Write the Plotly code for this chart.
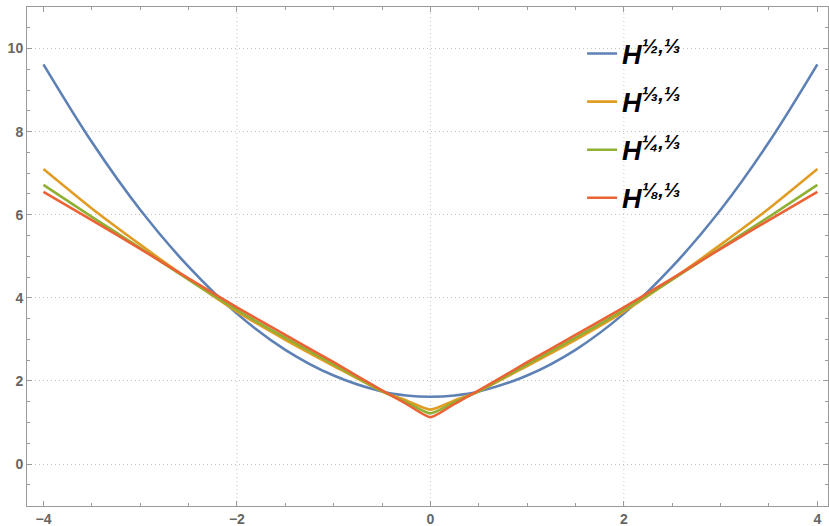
import plotly.graph_objects as go

# x samples (symmetric)
x_vals = [-4, -3.5, -3, -2.5, -2, -1.5, -1, -0.5, -0.25, 0, 0.25, 0.5, 1, 1.5, 2, 2.5, 3, 3.5, 4]

h_half = [9.62, 7.75, 6.12, 4.75, 3.62, 2.75, 2.13, 1.745, 1.65, 1.62, 1.65, 1.745, 2.13, 2.75, 3.62, 4.75, 6.12, 7.75, 9.62]
h_third = [7.10, 6.15, 5.28, 4.45, 3.67, 2.99, 2.36, 1.75, 1.53, 1.31, 1.53, 1.75, 2.36, 2.99, 3.67, 4.45, 5.28, 6.15, 7.10]
h_quarter = [6.72, 5.95, 5.20, 4.44, 3.71, 3.04, 2.40, 1.75, 1.49, 1.22, 1.49, 1.75, 2.40, 3.04, 3.71, 4.44, 5.20, 5.95, 6.72]
h_eighth = [6.55, 5.87, 5.18, 4.47, 3.77, 3.11, 2.45, 1.77, 1.45, 1.13, 1.45, 1.77, 2.45, 3.11, 3.77, 4.47, 5.18, 5.87, 6.55]

sup = '<span style="font-size:20px">'
names = [f"<b><i>H</i></b><sup>{sup}<b><i>½,⅓</i></b></span></sup>",
         f"<b><i>H</i></b><sup>{sup}<b><i>⅓,⅓</i></b></span></sup>",
         f"<b><i>H</i></b><sup>{sup}<b><i>¼,⅓</i></b></span></sup>",
         f"<b><i>H</i></b><sup>{sup}<b><i>⅛,⅓</i></b></span></sup>"]
colors = ["#5E81B5", "#E19C24", "#8FB032", "#EB6235"]
series = [h_half, h_third, h_quarter, h_eighth]
smooth = [1.0, 0.6, 0.6, 0.6]

fig = go.Figure()
for i, (ys, nm, c) in enumerate(zip(series, names, colors)):
    fig.add_trace(go.Scatter(x=x_vals, y=ys, mode="lines", name=nm,
                             line=dict(color=c, width=2.6, shape="spline", smoothing=smooth[i]),
                             legendgroup=str(i)))

grid_x = [-2, 0, 2]
for gx in grid_x:
    fig.add_vline(x=gx, line=dict(color="#c4c4c4", width=1, dash="1px,3px"), layer="below")

axis_common = dict(showline=True, linecolor="#9a9a9a", linewidth=1, mirror="allticks",
                   ticks="inside", ticklen=5, tickcolor="#9a9a9a", tickwidth=1,
                   tickfont=dict(family="Liberation Sans", size=14, color="#666666", weight="bold"),
                   zeroline=False, automargin=False)

fig.update_layout(
    width=829, height=526,
    margin=dict(l=27, r=1, t=7, b=20),
    paper_bgcolor="white", plot_bgcolor="white",
    xaxis=dict(range=[-4.17, 4.11], tickvals=[-4, -2, 0, 2, 4], ticktext=["−4", "−2", "0", "2", "4"],
               showgrid=False,
               minor=dict(dtick=0.5, tick0=0, ticks="inside", ticklen=3, tickcolor="#9a9a9a", showgrid=False),
               **axis_common),
    yaxis=dict(range=[-1.01, 11.0], tickvals=[0, 2, 4, 6, 8, 10],
               showgrid=True, gridcolor="#c4c4c4", griddash="1px,3px", gridwidth=1,
               minor=dict(dtick=0.5, tick0=0, ticks="inside", ticklen=3, tickcolor="#9a9a9a", showgrid=False),
               **axis_common),
    legend=dict(x=0.693, y=0.955, xanchor="left", yanchor="top",
                bgcolor="rgba(0,0,0,0)", traceorder="grouped", tracegroupgap=10,
                font=dict(family="Liberation Sans", size=27, color="black")),
    showlegend=True,
)

fig.write_html("out.html", config={"displayModeBar": False},
               post_script="document.body.style.margin='0';document.body.style.overflow='hidden';")
